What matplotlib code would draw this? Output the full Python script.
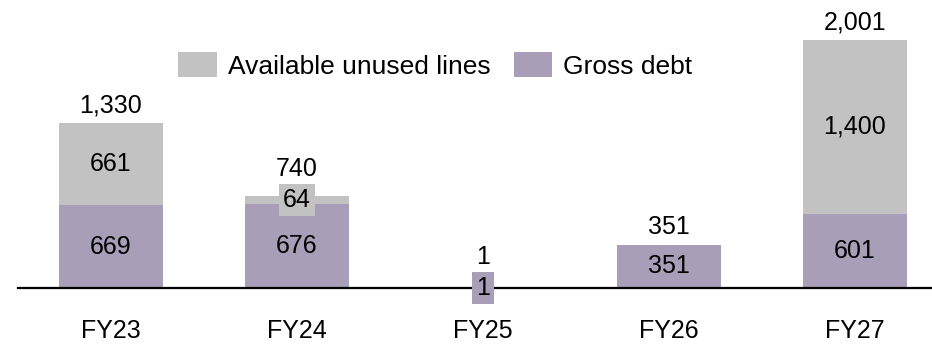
import matplotlib
matplotlib.use("Agg")
import matplotlib.pyplot as plt

plt.rcParams["font.family"] = ["Liberation Sans", "DejaVu Sans"]

years = ["FY23", "FY24", "FY25", "FY26", "FY27"]
gross_debt = [669, 676, 1, 351, 601]
unused_lines = [661, 64, 0, 0, 1400]
totals = [1330, 740, 1, 351, 2001]

c_debt = "#A99EB7"
c_unused = "#C2C2C2"
fs = 18

fig = plt.figure(figsize=(9.32, 3.46), dpi=100)
ax = fig.add_axes([18 / 932, 58 / 346, 1 - 18 / 932, 288 / 346])

x = range(len(years))
w = 0.56
ax.bar(x, gross_debt, width=w, color=c_debt, label="Gross debt")
ax.bar(x, unused_lines, width=w, bottom=gross_debt, color=c_unused,
       label="Available unused lines")

ax.set_xlim(-0.5, 4.414)
ax.set_ylim(0, 2324)
for s in ("top", "left", "right"):
    ax.spines[s].set_visible(False)
ax.spines["bottom"].set_linewidth(1.6)
ax.spines["bottom"].set_color("black")
ax.set_yticks([])
ax.set_xticks(list(x))
ax.set_xticklabels(years, fontsize=fs)
ax.tick_params(axis="x", length=0, pad=22)

# segment labels sit on a box of the segment colour
px_per_unit = ax.transData.transform((0, 1))[1] - ax.transData.transform((0, 0))[1]
for i in x:
    tops = [totals[i]]
    segs = [(gross_debt[i], 0, c_debt), (unused_lines[i], gross_debt[i], c_unused)]
    for val, base, col in segs:
        if val <= 0:
            continue
        yc = base + val / 2
        ax.text(i, yc, f"{val:,}", ha="center", va="center", fontsize=fs,
                bbox=dict(boxstyle="square,pad=0.16", fc=col, ec="none"))
        # keep the total above the inner label box
        tops.append(yc + 17 / px_per_unit)
    y_top = max(tops)
    gap = 6 if y_top == totals[i] else 2
    ax.annotate(f"{totals[i]:,}", (i, y_top), xytext=(0, gap * 0.72),
                textcoords="offset points", ha="center", va="bottom",
                fontsize=fs, annotation_clip=False)

h, l = ax.get_legend_handles_labels()
fig.legend(h[::-1], l[::-1], loc="center", bbox_to_anchor=(435.5 / 932, 1 - 65.5 / 346),
           ncol=2, frameon=False, fontsize=19, handlelength=1.46, handleheight=1.04,
           handletextpad=0.42, columnspacing=0.88, borderpad=0)

fig.savefig("out.png", dpi=100)
